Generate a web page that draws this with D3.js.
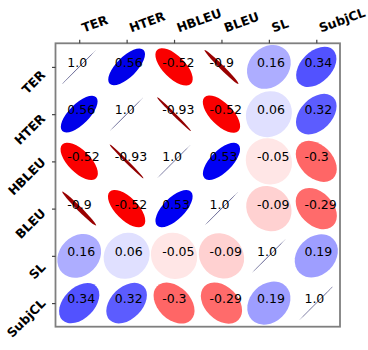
<!DOCTYPE html>
<html>
<head>
<meta charset="utf-8">
<script src="https://cdn.jsdelivr.net/npm/d3@7/dist/d3.min.js"></script>
<style>
  html, body { margin: 0; padding: 0; background: #fff; }
  svg { display: block; }
  text { font-family: "DejaVu Sans", sans-serif; }
</style>
</head>
<body>
<svg id="chart" width="368" height="350"></svg>
<script>
// ---- data ----
const labels = ["TER", "HTER", "HBLEU", "BLEU", "SL", "SubjCL"];
const rowTER    = [1.0, 0.56, -0.52, -0.9, 0.16, 0.34];
const rowHTER   = [0.56, 1.0, -0.93, -0.52, 0.06, 0.32];
const rowHBLEU  = [-0.52, -0.93, 1.0, 0.53, -0.05, -0.3];
const rowBLEU   = [-0.9, -0.52, 0.53, 1.0, -0.09, -0.29];
const rowSL     = [0.16, 0.06, -0.05, -0.09, 1.0, 0.19];
const rowSubjCL = [0.34, 0.32, -0.3, -0.29, 0.19, 1.0];
const matrix = [rowTER, rowHTER, rowHBLEU, rowBLEU, rowSL, rowSubjCL];

// ---- layout ----
const svg = d3.select("#chart");
const pLeft = 55.5, pRight = 340, pTop = 43.3, pBottom = 326.7;
const n = labels.length;
const x = d3.scaleLinear().domain([-0.5, n - 0.5]).range([pLeft, pRight]);
const y = d3.scaleLinear().domain([-0.5, n - 0.5]).range([pTop, pBottom]);
const unit = x(1) - x(0);

// seismic_r colormap
const color = d3.scaleLinear()
  .domain([-1, -0.5, 0, 0.5, 1])
  .range(["#800000", "#ff0000", "#ffffff", "#0000ff", "#00004d"]);

const cells = [];
matrix.forEach((row, i) => row.forEach((v, j) => cells.push({i, j, v})));

const plot = svg.append("g");

// ellipses
plot.selectAll("ellipse")
  .data(cells)
  .join("ellipse")
  .attr("cx", 0).attr("cy", 0)
  .attr("rx", d => 1.01 / 2 * unit)
  .attr("ry", d => Math.max(Math.abs(1 - Math.abs(d.v) - 0.01) / 2 * unit, 0.25))
  .attr("transform", d => `translate(${x(d.j)},${y(d.i)}) rotate(${-45 * Math.sign(d.v)})`)
  .attr("fill", d => color(d.v));

// values
plot.selectAll("text.val")
  .data(cells)
  .join("text")
  .attr("class", "val")
  .attr("x", d => x(d.j - 0.25))
  .attr("y", d => y(d.i))
  .attr("font-size", 12.5)
  .attr("fill", "#000")
  .text(d => String(d.v === 1 ? "1.0" : d.v));

// frame
svg.append("rect")
  .attr("x", pLeft).attr("y", pTop)
  .attr("width", pRight - pLeft).attr("height", pBottom - pTop)
  .attr("fill", "none").attr("stroke", "#7f7f7f").attr("stroke-width", 1.8);

// axes (ticks)
const xAxis = d3.axisTop(x).tickValues(d3.range(n)).tickSize(3.5).tickFormat(i => labels[i]);
const yAxis = d3.axisLeft(y).tickValues(d3.range(n)).tickSize(3.5).tickFormat(i => labels[i]);

const gx = svg.append("g").attr("transform", `translate(0,${pTop})`).call(xAxis);
const gy = svg.append("g").attr("transform", `translate(${pLeft},0)`).call(yAxis);
[gx, gy].forEach(g => {
  g.select(".domain").remove();
  g.selectAll(".tick line").attr("stroke", "#444").attr("stroke-width", 1.2);
});

function rotatedBox(node, angle) {
  const b = node.getBBox();
  const a = angle * Math.PI / 180, c = Math.cos(a), s = Math.sin(a);
  const pts = [[b.x, b.y], [b.x + b.width, b.y], [b.x, b.y + b.height], [b.x + b.width, b.y + b.height]]
    .map(([px, py]) => [px * c - py * s, px * s + py * c]);
  return {
    x0: d3.min(pts, p => p[0]), x1: d3.max(pts, p => p[0]),
    y0: d3.min(pts, p => p[1]), y1: d3.max(pts, p => p[1])
  };
}

// column labels: rotated 20deg, left-aligned at tick, bottom above tick
gx.selectAll(".tick").each(function(i) {
  const t = d3.select(this).select("text");
  t.attr("x", 0).attr("y", 0).attr("dy", null)
   .attr("text-anchor", "start")
   .attr("font-size", 12.5).attr("font-weight", "bold").attr("fill", "#000");
  const bb = rotatedBox(t.node(), -20);
  const ox = 0 - bb.x0;
  const oy = -8 - bb.y1;
  t.attr("transform", `translate(${ox},${oy}) rotate(-20)`);
});

// row labels: rotated 45deg, right aligned
gy.selectAll(".tick").each(function(i) {
  const t = d3.select(this).select("text");
  t.attr("x", 0).attr("y", 0).attr("dy", null)
   .attr("text-anchor", "start")
   .attr("font-size", 12.5).attr("font-weight", "bold").attr("fill", "#000");
  const bb = rotatedBox(t.node(), -45);
  const ox = -7 - bb.x1;
  const oy = 14.5 - (bb.y0 + bb.y1) / 2;
  t.attr("transform", `translate(${ox},${oy}) rotate(-45)`);
});
</script>
</body>
</html>
